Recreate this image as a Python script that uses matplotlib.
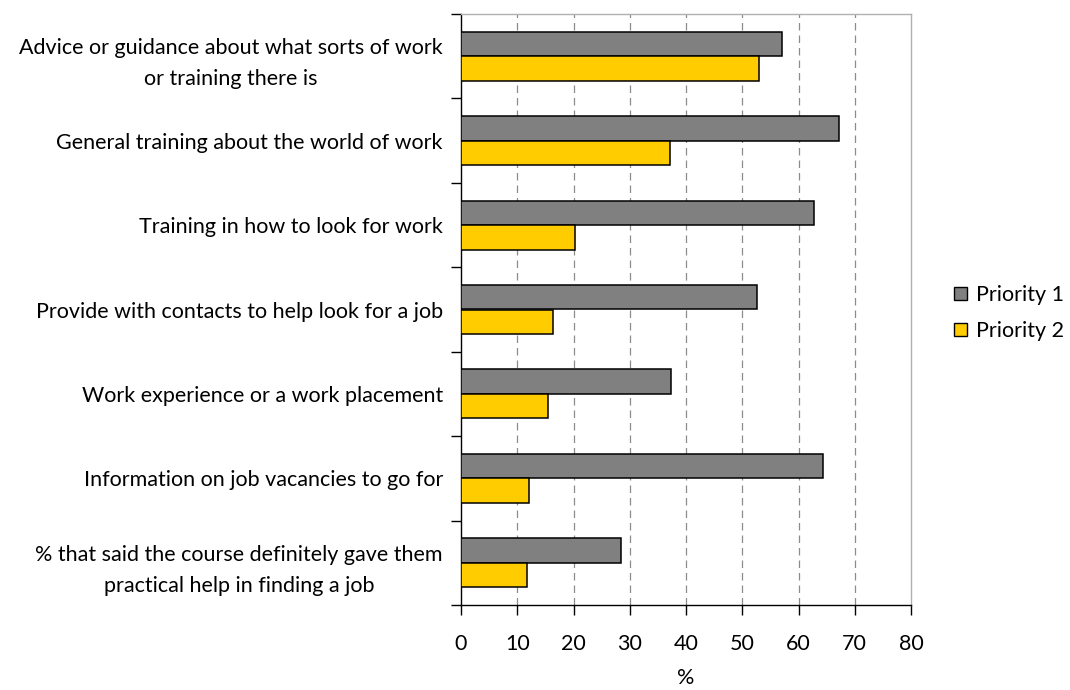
import matplotlib
matplotlib.use("Agg")
import matplotlib.pyplot as plt
from matplotlib.patches import Patch
from matplotlib.ticker import FixedLocator
import numpy as np

plt.rcParams['font.family'] = ['Lato', 'DejaVu Sans']

categories = [
    "Advice or guidance about what sorts of work\nor training there is",
    "General training about the world of work",
    "Training in how to look for work",
    "Provide with contacts to help look for a job",
    "Work experience or a work placement",
    "Information on job vacancies to go for",
    "% that said the course definitely gave them\npractical help in finding a job",
]
priority1 = [57.1, 67.2, 62.8, 52.7, 37.3, 64.4, 28.4]
priority2 = [52.9, 37.2, 20.2, 16.4, 15.5, 12.0, 11.7]
series_names = ["Priority 1", "Priority 2"]
x_ticks = [0, 10, 20, 30, 40, 50, 60, 70, 80]
x_label = "%"

GREY = "#808080"
YELLOW = "#FFCC00"
FS = 15.5

W, H = 1070, 690
fig = plt.figure(figsize=(W / 100, H / 100), dpi=100)
ax = fig.add_axes([461 / W, 1 - 605 / H, 450 / W, 591 / H])

n = len(categories)
y = np.arange(n)[::-1].astype(float)
bh = 0.29
ax.barh(y + 0.146, priority1, height=bh, color=GREY, edgecolor="black",
        linewidth=1.1, zorder=3)
ax.barh(y - 0.146, priority2, height=bh, color=YELLOW, edgecolor="black",
        linewidth=1.1, zorder=3)

ax.set_xlim(0, 80)
ax.set_ylim(-0.5, n - 0.5)

# vertical dashed gridlines
ax.xaxis.set_major_locator(FixedLocator(x_ticks))
for xv in x_ticks[1:-1]:
    ax.axvline(xv, color="#8c8c8c", linewidth=0.9, dashes=(6, 4), zorder=1)

# y axis: labels at category centres, tick marks at category borders
ax.set_yticks(y)
ax.set_yticklabels(categories, fontsize=FS, linespacing=1.7,
                   multialignment="center")
ax.yaxis.set_minor_locator(FixedLocator(np.arange(-0.5, n, 1.0)))
ax.tick_params(axis="y", which="major", length=0, pad=13)
ax.tick_params(axis="y", which="minor", length=7, width=1, color="black",
               direction="out")
ax.tick_params(axis="x", which="major", length=7, width=1, direction="out",
               labelsize=FS, pad=14)
ax.set_xticklabels([str(v) for v in x_ticks])
ax.set_xlabel(x_label, fontsize=FS, labelpad=10)

for side in ("top", "right"):
    ax.spines[side].set_color("#b0b0b0")
    ax.spines[side].set_linewidth(1)
for side in ("left", "bottom"):
    ax.spines[side].set_color("black")
    ax.spines[side].set_linewidth(1)

handles = [Patch(facecolor=GREY, edgecolor="black", linewidth=1),
           Patch(facecolor=YELLOW, edgecolor="black", linewidth=1)]
fig.legend(handles, series_names, loc="center left",
           bbox_to_anchor=(954 / W, 1 - 313 / H), frameon=False,
           fontsize=FS, handlelength=0.6, handleheight=0.6,
           handletextpad=0.42, labelspacing=0.75, borderaxespad=0,
           borderpad=0)

fig.savefig("out.png", dpi=100, facecolor="white")
